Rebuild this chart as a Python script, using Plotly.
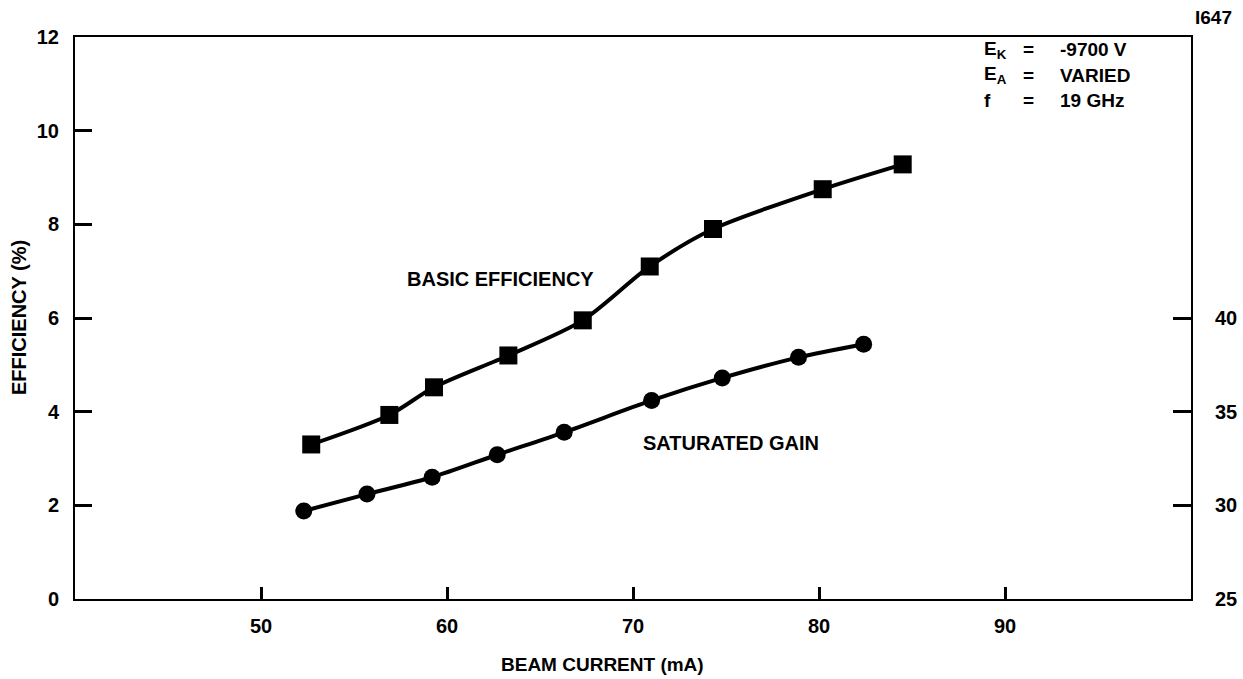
import plotly.graph_objects as go

# Beam current (mA) and basic efficiency (%)
eff_current = [52.7, 56.9, 59.3, 63.3, 67.3, 70.9, 74.3, 80.2, 84.5]
eff_values = [3.30, 3.93, 4.52, 5.20, 5.95, 7.10, 7.90, 8.75, 9.28]

# Beam current (mA) and saturated gain (dB, right axis)
gain_current = [52.3, 55.7, 59.2, 62.7, 66.3, 71.0, 74.8, 78.9, 82.4]
gain_values = [29.7, 30.6, 31.5, 32.7, 33.9, 35.6, 36.8, 37.9, 38.6]

x_ticks = [50, 60, 70, 80, 90]
y_ticks = [0, 2, 4, 6, 8, 10, 12]
y2_ticks = [25, 30, 35, 40]

W, H = 1243, 679
ML, MR, MT, MB = 75, 52, 37, 80
FONT = "Liberation Sans, Arial, Helvetica, sans-serif"


def px(x):
    return (x - ML) / (W - ML - MR)


def py(y):
    return (H - MB - y) / (H - MT - MB)


fig = go.Figure()

fig.add_trace(go.Scatter(
    x=eff_current, y=eff_values, mode="lines+markers",
    line=dict(color="black", width=4, shape="spline", smoothing=0.8),
    marker=dict(symbol="square", size=18, color="black"),
    name="BASIC EFFICIENCY", showlegend=False,
))

fig.add_trace(go.Scatter(
    x=gain_current, y=gain_values, mode="lines+markers", yaxis="y2",
    line=dict(color="black", width=4, shape="spline", smoothing=0.8),
    marker=dict(symbol="circle", size=17, color="black"),
    name="SATURATED GAIN", showlegend=False,
))

tickfont = dict(family=FONT, size=20, color="black", weight="bold")
axis_common = dict(
    tickcolor="black", tickwidth=3, ticks="inside", showline=True,
    linecolor="black", linewidth=2, showgrid=False, zeroline=False,
    tickfont=tickfont, automargin=False,
)

fig.update_layout(
    width=W, height=H,
    margin=dict(l=ML, r=MR, t=MT, b=MB),
    paper_bgcolor="white", plot_bgcolor="white",
    font=dict(family=FONT, color="black"),
    xaxis=dict(axis_common, range=[40, 100], tickvals=x_ticks, ticklen=12,
               mirror=True, ticklabelstandoff=8),
    yaxis=dict(axis_common, range=[0, 12], tickvals=y_ticks, ticklen=17,
               ticklabelstandoff=10),
    yaxis2=dict(axis_common, range=[25, 55], tickvals=y2_ticks, ticklen=18,
                overlaying="y", side="right", ticklabelstandoff=18),
)

ann_font = dict(family=FONT, size=20, color="black", weight="bold")
annotations = [
    dict(x=px(500), y=py(279), text="BASIC EFFICIENCY"),
    dict(x=px(731), y=py(443), text="SATURATED GAIN"),
    dict(x=px(1234), y=py(18), text="I647", xanchor="right", size=19),
    dict(x=px(19), y=py(318), text="EFFICIENCY (%)", textangle=-90),
    dict(x=px(602), y=py(664), text="BEAM CURRENT (mA)", size=19),
]
rows = [("E<sub>K</sub>", "-9700 V", 50), ("E<sub>A</sub>", "VARIED", 75),
        ("f", "19 GHz", 100)]
for sym, val, yy in rows:
    annotations.append(dict(x=px(982), y=py(yy), text=sym, xanchor="left",
                            size=19))
    annotations.append(dict(x=px(1028), y=py(yy), text="=", xanchor="center",
                            size=19))
    annotations.append(dict(x=px(1058), y=py(yy), text=val, xanchor="left",
                            size=19))

for a in annotations:
    a.setdefault("xanchor", "center")
    size = a.pop("size", 20)
    fig.add_annotation(xref="paper", yref="paper", showarrow=False,
                       yanchor="middle", font=dict(ann_font, size=size), **a)

fig.write_html("out.html")
